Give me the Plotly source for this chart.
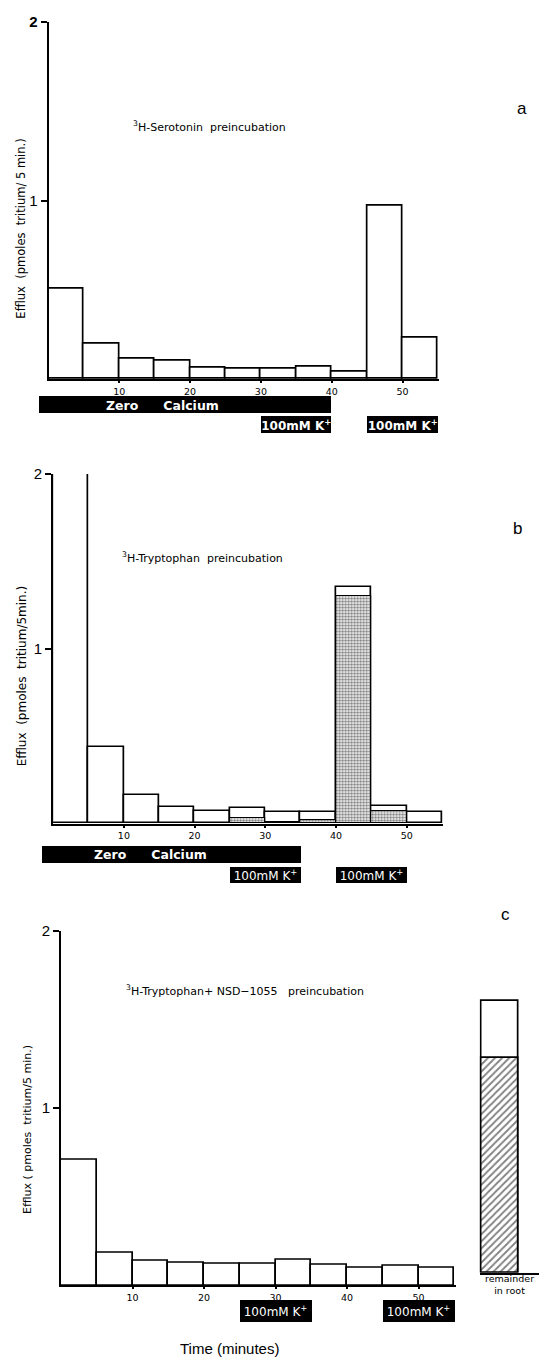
import plotly.graph_objects as go

W, H = 539, 1358

# ---------------- data ----------------
bin_start = [0, 5, 10, 15, 20, 25, 30, 35, 40, 45, 50]   # minutes
bin_width = 5

# panel a: 3H-Serotonin preincubation
efflux_a = [0.507, 0.196, 0.112, 0.102, 0.065, 0.061, 0.061, 0.069, 0.043, 0.972, 0.229]
# panel b: 3H-Tryptophan preincubation (total and stippled fraction); first bin off scale
efflux_b_total = [2.4, 0.439, 0.162, 0.097, 0.072, 0.091, 0.063, 0.068, 1.355, 0.100, 0.063]
efflux_b_stippled = [0, 0, 0, 0, 0, 0.030, 0.010, 0.020, 1.304, 0.072, 0]
# panel c: 3H-Tryptophan + NSD-1055 preincubation
efflux_c = [0.71, 0.186, 0.138, 0.127, 0.121, 0.123, 0.145, 0.115, 0.102, 0.110, 0.100]
remainder_total = [1.53]
remainder_hatched = [1.21]

# treatment periods (minutes): label, start, end, row
treat_a_labels = ["Zero Calcium", "100mM K+", "100mM K+"]
treat_a_start = [-1.3, 30, 45]
treat_a_end = [40, 40, 55]
treat_a_row = [0, 1, 1]
treat_b_labels = ["Zero Calcium", "100mM K+", "100mM K+"]
treat_b_start = [-1.6, 25, 40]
treat_b_end = [35, 35, 50]
treat_b_row = [0, 1, 1]
treat_c_labels = ["100mM K+", "100mM K+"]
treat_c_start = [25, 45]
treat_c_end = [35, 55]
treat_c_row = [0, 0]

x_ticks = [10, 20, 30, 40, 50]
y_ticks = [1, 2]

# ---------------- geometry helpers ----------------
def xdom(x0, sx, r):
    return [(x0 + r[0] * sx) / W, (x0 + r[1] * sx) / W]

def ydom(y0, sy, r):
    lo = 1 - (y0 - r[0] * sy) / H
    hi = 1 - (y0 - r[1] * sy) / H
    return [min(lo, hi), max(lo, hi)]

PA = dict(X0=48.5, SX=7.08, Y0=372.7, SY=179.9, C0=398.8, D=19.7, BW=0.85)
PB = dict(X0=53.2, SX=7.07, Y0=820.0, SY=175.9, C0=851.2, D=20.8, BW=0.80)
PC = dict(X0=61.0, SX=7.15, Y0=1285.0, SY=178.5, C0=1310.5, D=26.0, BW=0.84)

XR_MAIN = [0, 55.2]
XR_TL = [-3, 57]
YR_MAIN = [0, 2]

centers = [s + bin_width / 2 for s in bin_start]
widths = [bin_width] * len(bin_start)

BAR_LINE = dict(color="black", width=1.7)
FONT = "DejaVu Sans"

fig = go.Figure()
layout = dict(
    width=W, height=H, margin=dict(l=0, r=0, t=0, b=0),
    paper_bgcolor="white", plot_bgcolor="white",
    showlegend=False, barmode="overlay", bargap=0,
    font=dict(family=FONT, color="black"),
)
annotations = []

def main_axes(idx, P, ytext, ytickfont=15):
    xs = "xaxis" if idx == 1 else f"xaxis{idx}"
    ys = "yaxis" if idx == 1 else f"yaxis{idx}"
    yname = "y" if idx == 1 else f"y{idx}"
    xname = "x" if idx == 1 else f"x{idx}"
    layout[xs] = dict(domain=xdom(P["X0"], P["SX"], XR_MAIN), range=XR_MAIN, anchor=yname,
                      showline=True, linecolor="black", linewidth=2, showgrid=False, zeroline=False,
                      ticks="outside", ticklen=2, tickwidth=1.5, tickcolor="black",
                      tickvals=x_ticks, tickfont=dict(size=9.5, family=FONT))
    layout[ys] = dict(domain=ydom(P["Y0"], P["SY"], YR_MAIN), range=YR_MAIN, anchor=xname,
                      showline=True, linecolor="black", linewidth=2, showgrid=False, zeroline=False,
                      ticks="outside", ticklen=6, tickwidth=1.5, tickcolor="black",
                      tickvals=y_ticks, ticktext=ytext,
                      tickfont=dict(size=ytickfont, family="Liberation Sans"))
    return xname, yname

def timeline_axes(idx, P, nrows):
    xs, ys = f"xaxis{idx}", f"yaxis{idx}"
    rng = [nrows - 0.5, -0.5]
    layout[xs] = dict(domain=xdom(P["X0"], P["SX"], XR_TL), range=XR_TL, anchor=f"y{idx}", visible=False)
    layout[ys] = dict(domain=ydom(P["C0"], -P["D"], rng), range=rng, anchor=f"x{idx}", visible=False)
    return f"x{idx}", f"y{idx}"

def add_timeline(xn, yn, labels, starts, ends, rows, bw, bold=False):
    k = "<b>100mM K<sup>+</sup></b>" if bold else "100mM K<sup>+</sup>"
    for want_k in (False, True):
        sel = [i for i, l in enumerate(labels) if ("K+" in l) == want_k]
        if not sel:
            continue
        bar = dict(
            orientation="h", base=[starts[i] for i in sel],
            x=[ends[i] - starts[i] for i in sel], y=[rows[i] for i in sel],
            width=[bw] * len(sel), marker=dict(color="black", line=dict(width=0)),
            xaxis=xn, yaxis=yn, hoverinfo="skip")
        if want_k:
            bar.update(text=[k] * len(sel), textposition="inside", insidetextanchor="middle",
                       constraintext="none",
                       textfont=dict(color="white", size=12, family="DejaVu Sans"))
        fig.add_trace(go.Bar(**bar))
    for l, s, e, r in zip(labels, starts, ends, rows):
        if l == "Zero Calcium":
            annotations.append(dict(
                xref=xn, yref=yn, x=s + (e - s) * 0.42, y=r, showarrow=False,
                text="<b>Zero\u2003\u2003Calcium</b>",
                font=dict(color="white", size=12.5, family="DejaVu Sans")))

# ---- panel a ----
xa, ya = main_axes(1, PA, ["1", "<b>2</b>"])
fig.add_trace(go.Bar(x=centers, y=efflux_a, width=widths, marker=dict(color="white", line=BAR_LINE),
                     xaxis=xa, yaxis=ya))
xt, yt = timeline_axes(2, PA, 2)
add_timeline(xt, yt, treat_a_labels, treat_a_start, treat_a_end, treat_a_row, PA["BW"], bold=True)

# ---- panel b ----
xb, yb = main_axes(3, PB, ["1", "2"])
fig.add_trace(go.Bar(x=centers, y=efflux_b_total, width=widths, marker=dict(color="white", line=BAR_LINE),
                     xaxis=xb, yaxis=yb))
fig.add_trace(go.Bar(x=centers, y=efflux_b_stippled, width=widths,
                     marker=dict(color="white", line=dict(color="black", width=1.2),
                                 pattern=dict(shape=".", fgcolor="black", bgcolor="white",
                                              size=3, solidity=0.5)),
                     xaxis=xb, yaxis=yb))
xt, yt = timeline_axes(4, PB, 2)
add_timeline(xt, yt, treat_b_labels, treat_b_start, treat_b_end, treat_b_row, PB["BW"])

# ---- panel c ----
xc, yc = main_axes(5, PC, ["1", "2"])
fig.add_trace(go.Bar(x=centers, y=efflux_c, width=widths, marker=dict(color="white", line=BAR_LINE),
                     xaxis=xc, yaxis=yc))
xt, yt = timeline_axes(6, PC, 1)
add_timeline(xt, yt, treat_c_labels, treat_c_start, treat_c_end, treat_c_row, PC["BW"])

# remainder in root (separate small axis, same y scale)
layout["xaxis7"] = dict(domain=[479.5 / W, 1.0], range=[0, 1], anchor="y7",
                        showline=True, linecolor="black", linewidth=2, showgrid=False,
                        zeroline=False, showticklabels=False, ticks="")
layout["yaxis7"] = dict(domain=ydom(1272, PC["SY"], YR_MAIN), range=YR_MAIN, anchor="x7", visible=False)
fig.add_trace(go.Bar(x=[0.345], y=remainder_total, width=[0.62],
                     marker=dict(color="white", line=BAR_LINE), xaxis="x7", yaxis="y7"))
fig.add_trace(go.Bar(x=[0.345], y=remainder_hatched, width=[0.62],
                     marker=dict(color="white", line=BAR_LINE,
                                 pattern=dict(shape="/", fgcolor="black", bgcolor="white",
                                              size=5, solidity=0.35)),
                     xaxis="x7", yaxis="y7"))

# ---------------- text ----------------
def pa(xpx, ypx, text, size, family=FONT, angle=0, xanchor="center", align="center"):
    annotations.append(dict(xref="paper", yref="paper", x=xpx / W, y=1 - ypx / H, text=text,
                            showarrow=False, textangle=angle, xanchor=xanchor, yanchor="middle",
                            align=align, font=dict(size=size, family=family, color="black")))

pa(209.7, 118.3, "<sup>3</sup>H-Serotonin  preincubation", 11)
pa(202.8, 551.7, "<sup>3</sup>H-Tryptophan  preincubation", 11)
pa(245.2, 988.3, "<sup>3</sup>H-Tryptophan+ NSD\u22121055   preincubation", 11)

pa(20.6, 221.5, "Efflux  (pmoles  tritium/ 5 min.)", 11.5, angle=-90)
pa(22.3, 671.5, "Efflux  (pmoles  tritium/5min.)", 12, angle=-90)
pa(27.5, 1128.0, "Efflux ( pmoles  tritium/5 min.)", 11, angle=-90)

pa(522, 100, "a", 17, family="Liberation Sans")
pa(517.4, 523.3, "b", 17, family="Liberation Sans")
pa(505.3, 911.7, "c", 17, family="Liberation Sans")

pa(509, 1284, "remainder<br>in root", 9.5)
pa(229.6, 1348, "Time (minutes)", 15, family="Liberation Sans")

layout["annotations"] = annotations
fig.update_layout(**layout)
fig.write_html("out.html", config={"displayModeBar": False},
               post_script="document.body.style.margin='0';document.body.style.overflow='hidden';")
